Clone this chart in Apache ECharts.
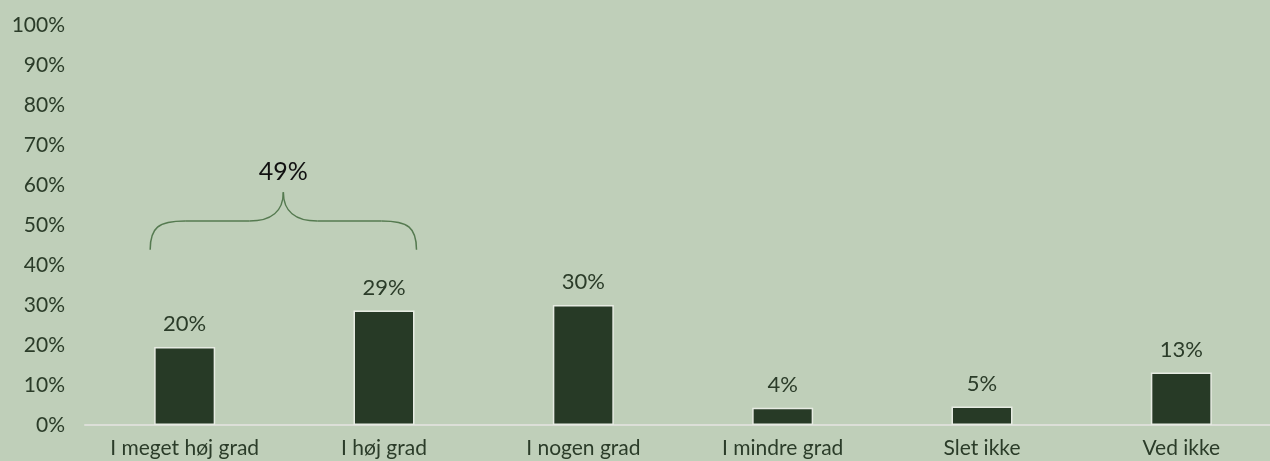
<!DOCTYPE html>
<html>
<head>
<meta charset="utf-8">
<script src="https://cdn.jsdelivr.net/npm/echarts@6/dist/echarts.min.js"></script>
<style>
  html, body { margin: 0; padding: 0; background: #bfcfb9; }
  #chart { width: 1270px; height: 461px; }
</style>
</head>
<body>
<div id="chart"></div>
<script>
// data
const categories = ['I meget høj grad', 'I høj grad', 'I nogen grad', 'I mindre grad', 'Slet ikke', 'Ved ikke'];
const values = [19.5, 28.6, 30.0, 4.3, 4.6, 13.1];
const braceLabel = '49%';
const yTicks = [0, 10, 20, 30, 40, 50, 60, 70, 80, 90, 100];

const textColor = '#2b3c29';
const fontFamily = 'Lato, "Noto Sans", sans-serif';
const barW = 61;

const chart = echarts.init(document.getElementById('chart'));
const option = {
  backgroundColor: '#bfcfb9',
  animation: false,
  grid: { left: 85, top: 25, width: 1196, bottom: 36, containLabel: false, outerBoundsMode: 'none' },
  xAxis: {
    type: 'category',
    data: categories,
    axisLine: { lineStyle: { color: '#dcdfd8', width: 2 } },
    axisTick: { show: false },
    axisLabel: { interval: 0, color: textColor, fontSize: 21, fontFamily: fontFamily, margin: 13 }
  },
  yAxis: {
    type: 'value',
    min: yTicks[0],
    max: yTicks[yTicks.length - 1],
    interval: 10,
    axisLine: { show: false },
    axisTick: { show: false },
    splitLine: { show: false },
    axisLabel: { color: textColor, fontSize: 21, fontFamily: fontFamily, margin: 20, formatter: '{value}%' }
  },
  series: [{
    type: 'bar',
    data: values,
    barWidth: barW,
    itemStyle: { color: '#273a26', borderColor: '#e6ebe2', borderWidth: 1.5 },
    label: {
      show: true,
      position: 'top',
      distance: 12,
      color: textColor,
      fontSize: 22,
      fontFamily: fontFamily,
      formatter: p => Math.round(p.value) + '%'
    }
  }]
};
chart.setOption(option);

// brace over the first two bars
const toPx = (c, v) => chart.convertToPixel({ gridIndex: 0 }, [c, v]);
const xl = toPx(0, 0)[0] - barW / 2 - 4;
const xr = toPx(1, 0)[0] + barW / 2 + 2;
const xm = (xl + xr) / 2;
const yb = toPx(0, 43.8)[1];
const yh = toPx(0, 51)[1];
const yp = toPx(0, 58.2)[1];
const yt = toPx(0, 63.3)[1];
const braceStyle = { stroke: '#557a50', lineWidth: 1.5, fill: null };
chart.setOption({
  graphic: [
    { type: 'bezierCurve', shape: { x1: xl, y1: yb, x2: xl + 35, y2: yh, cpx1: xl, cpy1: yb - 22, cpx2: xl + 8, cpy2: yh }, style: braceStyle },
    { type: 'line', shape: { x1: xl + 35, y1: yh, x2: xm - 34, y2: yh }, style: braceStyle },
    { type: 'bezierCurve', shape: { x1: xm - 34, y1: yh, x2: xm, y2: yp, cpx1: xm - 12, cpy1: yh, cpx2: xm, cpy2: yh - 10 }, style: braceStyle },
    { type: 'bezierCurve', shape: { x1: xm, y1: yp, x2: xm + 34, y2: yh, cpx1: xm, cpy1: yh - 10, cpx2: xm + 12, cpy2: yh }, style: braceStyle },
    { type: 'line', shape: { x1: xm + 34, y1: yh, x2: xr - 35, y2: yh }, style: braceStyle },
    { type: 'bezierCurve', shape: { x1: xr - 35, y1: yh, x2: xr, y2: yb, cpx1: xr - 8, cpy1: yh, cpx2: xr, cpy2: yb - 22 }, style: braceStyle },
    { type: 'text', x: xm, y: yt, style: { text: braceLabel, fill: '#111', fontSize: 25, fontFamily: fontFamily, align: 'center', verticalAlign: 'middle' } }
  ]
});
</script>
</body>
</html>
